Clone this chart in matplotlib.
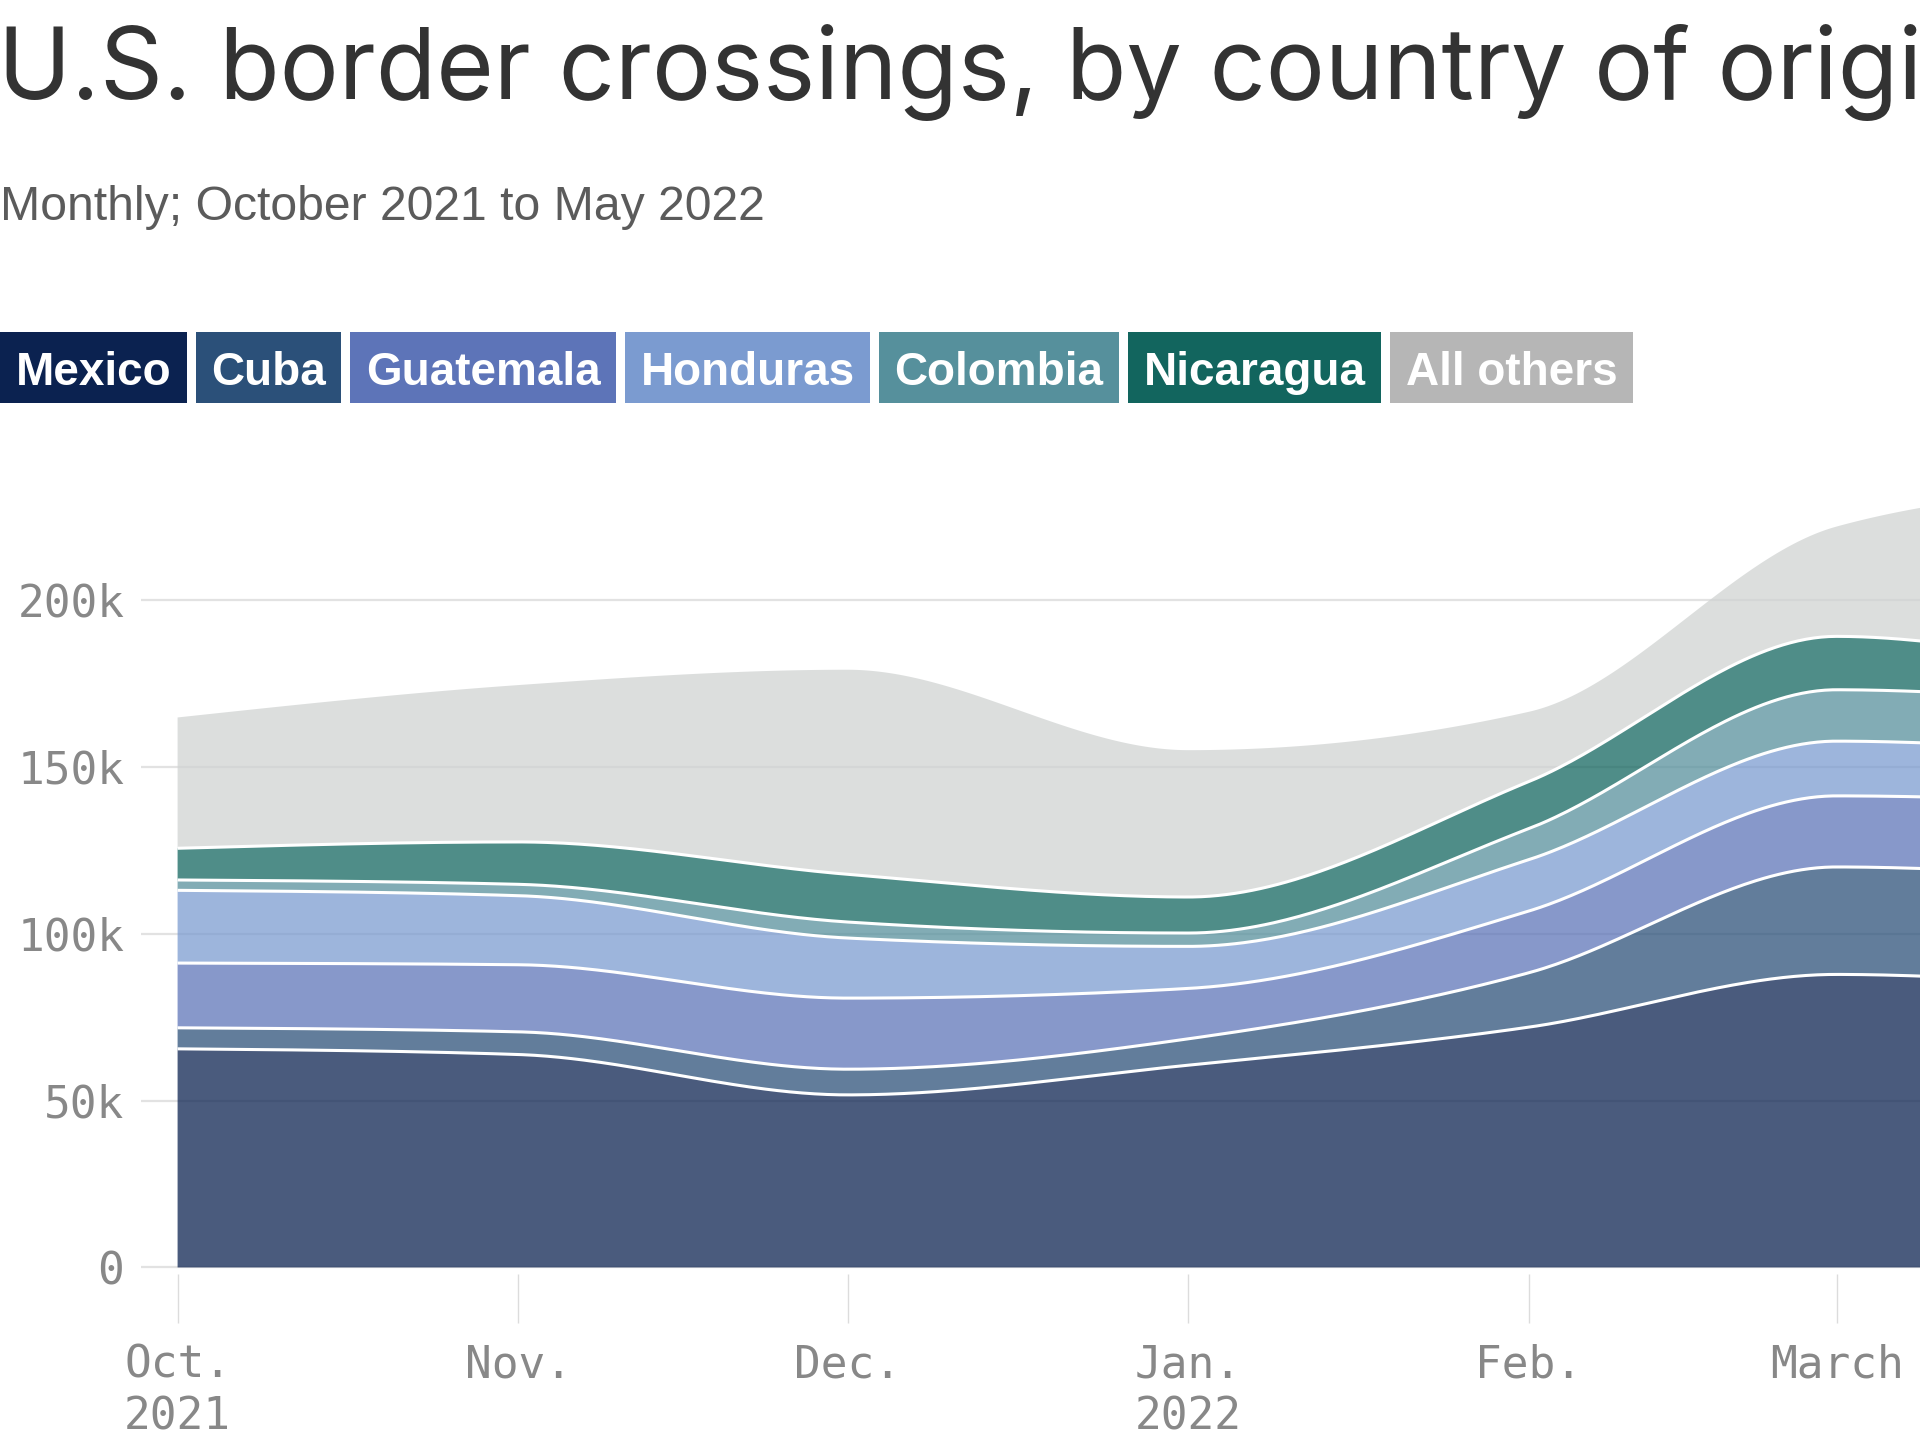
import numpy as np
import pandas as pd
import matplotlib
matplotlib.use("Agg")
import matplotlib.pyplot as plt
import matplotlib.dates as mdates
from matplotlib.patches import Rectangle

# ---------------- data (thousands of encounters) ----------------
months = ["2021-10-01", "2021-11-01", "2021-12-01", "2022-01-01",
          "2022-02-01", "2022-03-01", "2022-04-01", "2022-05-01"]
month_labels = ["Oct.\n2021", "Nov.", "Dec.", "Jan.\n2022", "Feb.", "March", "April", "May"]

countries = ["Mexico", "Cuba", "Guatemala", "Honduras", "Colombia", "Nicaragua", "All others"]
mexico    = [65.5, 63.8, 51.7, 60.6, 72.0, 87.8, 84.5, 92.0]
cuba      = [6.3, 6.8, 7.7, 7.9, 16.3, 32.2, 32.5, 25.3]
guatemala = [19.4, 20.1, 21.3, 15.1, 18.5, 21.3, 22.0, 21.0]
honduras  = [21.8, 20.7, 18.0, 12.6, 15.4, 16.4, 15.5, 16.5]
colombia  = [3.1, 3.4, 4.8, 4.0, 9.3, 15.4, 15.0, 18.5]
nicaragua = [9.5, 12.7, 14.3, 10.8, 14.1, 16.0, 10.5, 16.0]
others    = [39.2, 47.0, 61.3, 44.0, 20.9, 32.9, 56.0, 51.8]

yticks = [0, 50000, 100000, 150000, 200000]
ytick_labels = ["0", "50k", "100k", "150k", "200k"]

legend_colors = ["#0b2250", "#2b5079", "#5d74b8", "#7b9bd0", "#56909c", "#12655e", "#b6b6b6"]
fill_colors = ["#0b2250", "#2b5079", "#5d74b8", "#7b9bd0", "#56909c", "#12655e", "#d0d3d2"]

# ---------------- helpers ----------------
def monotone_x(x, y, n=80):
    """d3.curveMonotoneX-style smoothing of a polyline (for drawing only)."""
    x = np.asarray(x, float); y = np.asarray(y, float)
    m = len(x)
    h = np.diff(x); s = np.diff(y) / h
    t = np.zeros(m)
    for i in range(1, m - 1):
        h0, h1, s0, s1 = h[i - 1], h[i], s[i - 1], s[i]
        p = (s0 * h1 + s1 * h0) / (h0 + h1)
        t[i] = (np.sign(s0) + np.sign(s1)) * min(abs(s0), abs(s1), 0.5 * abs(p))
    t[0] = (3 * s[0] - t[1]) / 2
    t[-1] = (3 * s[-1] - t[-2]) / 2
    xs, ys = [], []
    for i in range(m - 1):
        u = np.linspace(0, 1, n, endpoint=(i == m - 2))
        h00 = 2 * u**3 - 3 * u**2 + 1
        h10 = u**3 - 2 * u**2 + u
        h01 = -2 * u**3 + 3 * u**2
        h11 = u**3 - u**2
        xs.append(x[i] + u * h[i])
        ys.append(h00 * y[i] + h10 * h[i] * t[i] + h01 * y[i + 1] + h11 * h[i] * t[i + 1])
    return np.concatenate(xs), np.concatenate(ys)

# ---------------- figure ----------------
W, H = 1920, 1440
fig = plt.figure(figsize=(W / 100, H / 100), dpi=100)
fig.patch.set_facecolor("white")

def fy(px):  # pixel from top -> figure fraction
    return 1 - px / H

x = mdates.date2num(pd.to_datetime(months))
series = np.array([mexico, cuba, guatemala, honduras, colombia, nicaragua, others]) * 1000
cum = np.cumsum(series, axis=0)

ax = fig.add_axes([141 / W, 0.11521, 1 - 141 / W, 0.56083])
ax.set_facecolor("white")

prev = None
curves = []
for i in range(len(countries)):
    xs, ys = monotone_x(x, cum[i])
    lower = np.zeros_like(ys) if prev is None else prev
    ax.fill_between(xs, lower, ys, color=fill_colors[i], alpha=0.74, linewidth=0, zorder=2)
    curves.append((xs, ys))
    prev = ys
for xs, ys in curves[:-1]:
    ax.plot(xs, ys, color="white", lw=2.2, zorder=3, solid_capstyle="butt")

for sp in ax.spines.values():
    sp.set_visible(False)

ax.set_yticks(yticks)
ax.set_yticklabels(ytick_labels)
ax.yaxis.grid(True, color="#e2e2e2", lw=1.6, zorder=0)
ax.set_axisbelow(True)
ax.set_xticks(x)
ax.set_xticklabels(month_labels, linespacing=1.25)
ax.tick_params(axis="x", direction="out", length=35, width=1.0, color="#dcdcdc",
               pad=15, labelsize=32, labelcolor="#888888")
ax.tick_params(axis="y", length=0, pad=12, labelsize=32, labelcolor="#888888")
for lab in ax.get_xticklabels() + ax.get_yticklabels():
    lab.set_fontfamily("DejaVu Sans Mono")
ax.set_xlim(x[0] - 3.33, x[0] + 158.6)
ax.set_ylim(-2000, 240000)

# ---------------- title & subtitle ----------------
fig.text(-2 / W, fy(99), "U.S. border crossings, by country of origin",
         fontsize=71, family="Inter", color="#333333", va="baseline", ha="left")
fig.text(0, fy(220), "Monthly; October 2021 to May 2022",
         fontsize=34.7, family="Liberation Sans", color="#5b5b5b", va="baseline", ha="left")

# ---------------- legend boxes ----------------
renderer = fig.canvas.get_renderer()
xpos = 0.0
pad = 15.5
gap = 9
for name, col in zip(countries, legend_colors):
    t = fig.text((xpos + pad) / W, fy(385), name, fontsize=33, family="Liberation Sans",
                 weight="bold", color="white", va="baseline", ha="left", zorder=5)
    bb = t.get_window_extent(renderer=renderer)
    wbox = bb.width + 2 * pad
    fig.patches.append(Rectangle((xpos / W, fy(403)), wbox / W, 71 / H,
                                 transform=fig.transFigure, facecolor=col,
                                 edgecolor="none", zorder=1))
    xpos += wbox + gap

fig.savefig("out.png", dpi=100, facecolor="white")
